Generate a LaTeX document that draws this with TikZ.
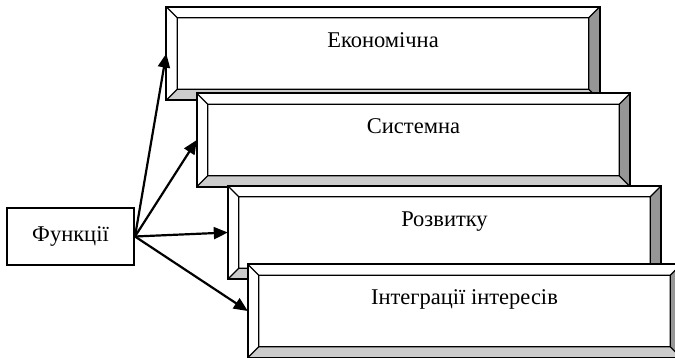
\documentclass[tikz,border=0pt]{standalone}
\usepackage{fontspec}
\setmainfont{Liberation Serif}
\usetikzlibrary{arrows.meta,calc}
\definecolor{bevelDark}{RGB}{150,150,150}
\definecolor{bevelLight}{RGB}{204,204,204}

\tikzset{
  plate/.style={minimum width=433pt, minimum height=93pt, inner sep=0pt},
  platetext/.style={anchor=base, font=\fontsize{22.5}{27}\selectfont},
  funbox/.style={draw, line width=2pt, minimum width=127pt, minimum height=57pt,
                 inner sep=0pt, font=\fontsize{22.5}{27}\selectfont},
  link/.style={line width=2.2pt, -{Triangle[length=14pt,width=12pt]}}
}

\begin{document}
\begin{tikzpicture}[x=1pt, y=-1pt]

% Page frame
\useasboundingbox (0,0) rectangle (675,358);
\clip (0,0) rectangle (675,358);

% Bevelled plates, each one lying over the one before
\foreach \nm/\cx/\cy/\lab in {econ/383/53.5/Економічна, sys/413.5/140/Системна,
    dev/444.5/232.5/Розвитку, integ/464.5/311/Інтеграції інтересів} {
  \node[plate] (\nm) at (\cx,\cy) {};
  \coordinate (ia) at ([shift={(11pt,-11pt)}]\nm.north west);
  \coordinate (ib) at ([shift={(-11pt,-11pt)}]\nm.north east);
  \coordinate (ic) at ([shift={(-11pt,11pt)}]\nm.south east);
  \coordinate (id) at ([shift={(11pt,11pt)}]\nm.south west);
  \fill[white] (\nm.north west) rectangle (\nm.south east);
  \fill[bevelDark] (\nm.north east) -- (\nm.south east) -- (ic) -- (ib) -- cycle;
  \fill[bevelLight] (\nm.south west) -- (\nm.south east) -- (ic) -- (id) -- cycle;
  \draw[line width=1.3pt] (ia) rectangle (ic)
    (\nm.north west) -- (ia) (\nm.north east) -- (ib)
    (\nm.south east) -- (ic) (\nm.south west) -- (id);
  \draw[line width=2pt] (\nm.north west) rectangle (\nm.south east);
  \node[platetext] (\nm-t) at ([yshift=-40.5pt]\nm.north) {\lab};
}

% Source box
\node[funbox] (fun) at (70.5,236.5) {Функції};

% Arrows to the plates
\foreach \nm in {econ, sys, dev, integ}
  \draw[link] (fun.east) -- (\nm.west);

\end{tikzpicture}
\end{document}
